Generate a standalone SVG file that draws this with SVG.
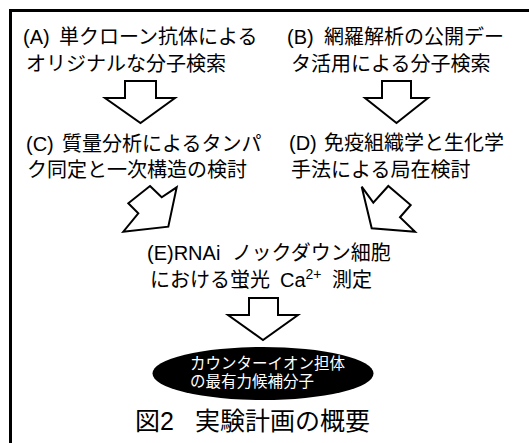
<svg xmlns="http://www.w3.org/2000/svg" width="529" height="443" viewBox="0 0 529 443">
<style>
text{font-family:"Liberation Sans","Noto Sans CJK JP",sans-serif;fill:#000}
.t{font-size:20px}
.w{font-size:15.5px;fill:#fff}
.cap{font-size:25px}
.arr{fill:#fff;stroke:#000;stroke-width:2;stroke-linejoin:miter}
</style>
<rect x="10.5" y="10.5" width="540" height="460" fill="#fff" stroke="#000" stroke-width="3"/>
<g id="nodeA"><text class="t" x="23" y="44">(A)<tspan x="59">単クローン抗体による</tspan></text><text class="t" x="26" y="71">オリジナルな分子検索</text></g>
<g id="nodeB"><text class="t" x="287" y="44">(B)<tspan x="324">網羅解析の公開デー</tspan></text><text class="t" x="291" y="71">タ活用による分子検索</text></g>
<g id="nodeC"><text class="t" x="26" y="151">(C)<tspan x="62">質量分析によるタンパ</tspan></text><text class="t" x="27" y="177">ク同定と一次構造の検討</text></g>
<g id="nodeD"><text class="t" x="289" y="150">(D)<tspan x="324">免疫組織学と生化学</tspan></text><text class="t" x="291" y="177">手法による局在検討</text></g>
<g id="nodeE"><text class="t" x="147" y="260">(E)RNAi<tspan x="232">ノックダウン細胞</tspan></text><text class="t" x="150" y="287">における蛍光<tspan x="280">Ca</tspan><tspan font-size="14" dy="-8">2+</tspan><tspan x="332" dy="8">測定</tspan></text></g>
<g id="nodeF"><ellipse cx="263" cy="373.5" rx="110.5" ry="26.5" fill="#000"/><text class="w" x="190" y="369">カウンターイオン担体</text><text class="w" x="190" y="387">の最有力候補分子</text></g>
<g id="connectors">
<polygon class="arr" points="125,81 156,81 156,98 175,98 140.5,123 105,98 125,98"/>
<polygon class="arr" points="382,81 411,81 411,98 428,98 396.5,123 365,98 382,98"/>
<polygon class="arr" points="150,186 161.7,197.3 176.7,187.3 168.3,226.7 123.3,231.7 138.3,213.3 128.3,203.3"/>
<polygon class="arr" points="361.7,186.7 373.3,202.7 388.3,186 410.7,205 400,217.3 415,231.7 371.7,228.3"/>
<polygon class="arr" points="249,298 278,298 278,315 298,315 263,340 228,315 249,315"/>
</g>
<g id="caption"><text class="cap" x="135" y="430">図2<tspan x="195">実験計画の概要</tspan></text></g>
</svg>
